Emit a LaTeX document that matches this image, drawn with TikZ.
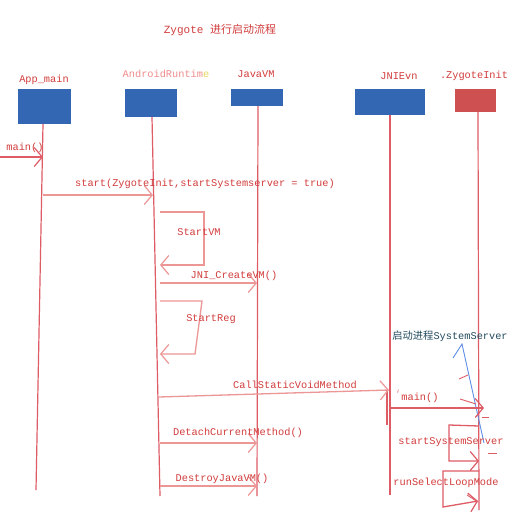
\documentclass[tikz,border=0pt]{standalone}
\usepackage{fontspec}
\setmainfont{Liberation Mono}
\newfontfamily\cjk{Noto Sans CJK SC}
\usetikzlibrary{arrows.meta}
\definecolor{boxblue}{RGB}{51,102,179}
\definecolor{boxred}{RGB}{207,80,80}
\definecolor{txtred}{RGB}{210,60,60}
\definecolor{lifecol}{RGB}{222,92,102}
\definecolor{msgcol}{RGB}{236,150,150}
\definecolor{pinktxt}{RGB}{240,140,140}
\definecolor{yel}{RGB}{230,215,90}
\definecolor{bluearr}{RGB}{95,140,230}
\definecolor{tealtxt}{RGB}{35,75,95}
\tikzset{
  actor/.style={draw=white, line width=0.8pt, fill=boxblue, inner sep=0pt},
  lbl/.style={text=txtred, font=\fontsize{10.3}{12}\selectfont, inner sep=0pt},
  life/.style={draw=lifecol, line width=1.2pt},
  msg/.style={draw=msgcol, line width=1.3pt, -{Straight Barb[length=8pt,width=19pt,line width=1.2pt]}},
  redmsg/.style={draw=lifecol, line width=1.3pt, -{Straight Barb[length=8pt,width=19pt,line width=1.2pt]}},
}
\begin{document}
\begin{tikzpicture}[x=1pt,y=-1pt]
\useasboundingbox[fill=white] (0,0) rectangle (512,512);

% title
\node[lbl, font=\fontsize{11}{13}\selectfont] (title) at (220,30) {Zygote {\cjk 进行启动流程}};

% actors
\node[actor, minimum width=54pt, minimum height=36pt] (app) at (44,106) {};
\node[actor, minimum width=53pt, minimum height=29pt] (ar) at (151,102.5) {};
\node[actor, minimum width=53pt, minimum height=18pt] (jvm) at (257,97) {};
\node[actor, minimum width=71pt, minimum height=27pt] (jni) at (390,101.5) {};
\node[actor, fill=boxred, minimum width=42pt, minimum height=24pt] (zi) at (475,100) {};

\node[lbl] (appL) at (44,80) {App\_main};
\node[lbl, text=pinktxt] (arL) at (166,74) {AndroidRuntim\textcolor{yel}{e}};
\node[lbl] (jvmL) at (256,74) {JavaVM};
\node[lbl] (jniL) at (399,76) {JNIEvn};
\node[lbl] (ziL) at (474,76) {.ZygoteInit};

% lifelines
\coordinate (appT) at (43,124);  \coordinate (appB) at (36,490);
\coordinate (arT) at (152,117);  \coordinate (arB) at (160,496);
\coordinate (jvmT) at (258,106); \coordinate (jvmB) at (257,496);
\coordinate (jniT) at (390,115); \coordinate (jniB) at (390,495);
\coordinate (ziT) at (478,112);  \coordinate (ziB) at (479,510);
\draw[life] (appT) -- (appB);
\draw[life] (arT) -- (arB);
\draw[life] (jvmT) -- (jvmB);
\draw[life] (jniT) -- (jniB);
\draw[life] (ziT) -- (ziB);
% activation bar on JNIEvn
\coordinate (actT) at (387,390); \coordinate (actB) at (387,425);
\draw[draw=lifecol, line width=2pt] (actT) -- (actB);

% main()
\coordinate (m0) at (0,157); \coordinate (m1) at (43,157);
\draw[redmsg] (m0) -- (m1);
\node[lbl] (mainL) at (25,148) {main()};

% start(...)
\coordinate (s0) at (43,195); \coordinate (s1) at (153,195);
\draw[msg] (s0) -- (s1);
\node[lbl] (startL) at (205,184) {start(ZygoteInit,startSystemserver = true)};

% StartVM loop
\coordinate (v0) at (160,212); \coordinate (v1) at (204,212);
\coordinate (v2) at (204,265); \coordinate (v3) at (160,265);
\draw[msg] (v0) -- (v1) -- (v2) -- (v3);
\node[lbl] (startVML) at (199,232) {StartVM};

% JNI_CreateVM()
\coordinate (c0) at (160,283); \coordinate (c1) at (257,283);
\draw[msg] (c0) -- (c1);
\node[lbl] (createL) at (234,276) {JNI\_CreateVM()};

% StartReg loop
\coordinate (r0) at (160,301); \coordinate (r1) at (202,301);
\coordinate (r2) at (195,354); \coordinate (r3) at (160,354);
\draw[msg] (r0) -- (r1) -- (r2) -- (r3);
\node[lbl] (regL) at (211,319) {StartReg};

% CallStaticVoidMethod
\coordinate (k0) at (159,397); \coordinate (k1) at (389,390);
\draw[msg] (k0) -- (k1);
\node[lbl] (callL) at (295,385) {CallStaticVoidMethod};

% 启动进程SystemServer
\node[lbl, text=tealtxt] (ssL) at (450,336) {{\cjk 启动进程}SystemServer};
\coordinate (b0) at (484,443); \coordinate (b1) at (462,344); \coordinate (b2) at (453,358);
\draw[draw=bluearr, line width=0.9pt] (b0) -- (b1) -- (b2);

% main() to ZygoteInit
\coordinate (z0) at (389,408); \coordinate (z1) at (484,408);
\draw[redmsg] (z0) -- (z1);
\node[lbl] (main2L) at (420,398) {main()};
\node[lbl, text=msgcol] (tick) at (398,394) {`};
\coordinate (t0) at (459,379); \coordinate (t1) at (468,375);
\draw[draw=lifecol, line width=0.9pt] (t0) -- (t1);
\coordinate (u0) at (460,399); \coordinate (u1) at (476,404);
\draw[draw=lifecol, line width=0.9pt] (u0) -- (u1);
\coordinate (w0) at (482,417); \coordinate (w1) at (489,417);
\draw[draw=lifecol, line width=0.9pt] (w0) -- (w1);

% startSystemServer loop
\coordinate (q0) at (479,426); \coordinate (q1) at (449,425);
\coordinate (q2) at (449,461); \coordinate (q3) at (479,461);
\draw[redmsg] (q0) -- (q1) -- (q2) -- (q3);
\node[lbl] (sssL) at (451,442) {startSystemServer};
\coordinate (y0) at (488,453); \coordinate (y1) at (497,453);
\draw[draw=lifecol, line width=0.9pt] (y0) -- (y1);

% runSelectLoopMode loop
\coordinate (l0) at (479,471); \coordinate (l1) at (443,471);
\coordinate (l2) at (443,507); \coordinate (l3) at (478,501);
\draw[redmsg] (l0) -- (l1) -- (l2) -- (l3);
\node[lbl] (rslL) at (446,483) {runSelectLoopMode};
\coordinate (n0) at (467,495); \coordinate (n1) at (478,502);
\draw[draw=lifecol, line width=0.9pt] (n0) -- (n1);

% DetachCurrentMethod()
\coordinate (d0) at (160,443); \coordinate (d1) at (257,443);
\draw[msg] (d0) -- (d1);
\node[lbl] (detL) at (238,433) {DetachCurrentMethod()};

% DestroyJavaVM()
\coordinate (e0) at (160,486); \coordinate (e1) at (257,486);
\draw[msg] (e0) -- (e1);
\node[lbl] (desL) at (222,479) {DestroyJavaVM()};
\end{tikzpicture}
\end{document}
